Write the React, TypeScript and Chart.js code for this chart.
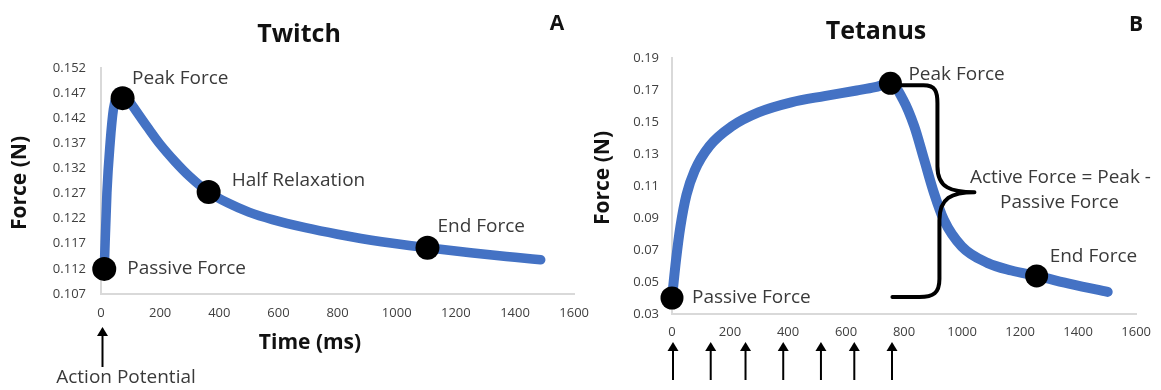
import React, { useEffect, useRef } from "react";
import { Chart, registerables } from "chart.js";
Chart.register(...registerables);

const FONT = "'Open Sans', 'DejaVu Sans', sans-serif";
const BLUE = "#4472C4";
const TEXT = "#3a3a3a";
const TICK = "#404040";

// ---------- Twitch (A) ----------
const twitchTime = [11, 20, 31, 42, 55, 65, 80, 100, 130, 160, 200, 250, 300, 364, 430, 500, 580, 691, 800, 949, 1104, 1250, 1400, 1487];
const twitchForce = [0.112, 0.1272, 0.1372, 0.1438, 0.1466, 0.1472, 0.1465, 0.145, 0.1425, 0.14, 0.1368, 0.1334, 0.1304, 0.1273, 0.1251, 0.1233, 0.1218, 0.1202, 0.1189, 0.1174, 0.1162, 0.1152, 0.1143, 0.1138];
const twitchKeyTime = [11, 73, 364, 1104];
const twitchKeyForce = [0.112, 0.146, 0.1273, 0.1162];
const twitchKeyLabels = ["Passive Force", "Peak Force", "Half Relaxation", "End Force"];
const twitchYTicks = [0.107, 0.112, 0.117, 0.122, 0.127, 0.132, 0.137, 0.142, 0.147, 0.152];
const twitchStimuli = [0];

// ---------- Tetanus (B) ----------
const tetanusTime = [0, 14, 29, 50, 78, 129, 207, 298, 411, 525, 637, 700, 753, 796, 835, 869, 903, 937, 999, 1089, 1170, 1257, 1380, 1502];
const tetanusForce = [0.04, 0.064, 0.0847, 0.1045, 0.1195, 0.1349, 0.1474, 0.156, 0.1623, 0.1662, 0.1697, 0.1718, 0.1742, 0.1642, 0.1474, 0.1266, 0.1057, 0.0889, 0.0722, 0.0618, 0.0572, 0.0538, 0.0485, 0.0438];
const tetanusKeyTime = [0, 753, 1257];
const tetanusKeyForce = [0.04, 0.1742, 0.0538];
const tetanusKeyLabels = ["Passive Force", "Peak Force", "End Force"];
const tetanusYTicks = [0.03, 0.05, 0.07, 0.09, 0.11, 0.13, 0.15, 0.17, 0.19];
const tetanusStimuli = [0, 130, 250, 380, 510, 625, 755];

const timeTicks = [0, 200, 400, 600, 800, 1000, 1200, 1400, 1600];

function drawArrow(ctx: CanvasRenderingContext2D, x: number, yTip: number, yBottom: number) {
  ctx.save();
  ctx.strokeStyle = "#000";
  ctx.fillStyle = "#000";
  ctx.lineWidth = 2;
  ctx.beginPath();
  ctx.moveTo(x, yTip + 6);
  ctx.lineTo(x, yBottom);
  ctx.stroke();
  ctx.beginPath();
  ctx.moveTo(x, yTip);
  ctx.lineTo(x - 5.5, yTip + 9);
  ctx.lineTo(x + 5.5, yTip + 9);
  ctx.closePath();
  ctx.fill();
  ctx.restore();
}

function text(ctx: CanvasRenderingContext2D, s: string, x: number, y: number, font: string, color: string, align: CanvasTextAlign = "left") {
  ctx.font = font;
  ctx.fillStyle = color;
  ctx.textAlign = align;
  ctx.textBaseline = "middle";
  ctx.fillText(s, x, y);
}

function vtext(ctx: CanvasRenderingContext2D, s: string, x: number, y: number, font: string, color: string) {
  ctx.save();
  ctx.translate(x, y);
  ctx.rotate(-Math.PI / 2);
  text(ctx, s, 0, 0, font, color, "center");
  ctx.restore();
}

type Spec = {
  width: number;
  height: number;
  left: number;
  time: number[];
  force: number[];
  keyTime: number[];
  keyForce: number[];
  yTicks: number[];
  decimals: number;
  top: number;
  right: number;
  yWidth: number;
  xHeight: number;
  yPad: number;
  xPad: number;
  lineWidth: number;
  dotRadius: number;
  extras: (chart: any) => void;
};

const twitchSpec: Spec = {
  width: 600,
  height: 390,
  left: 0,
  time: twitchTime,
  force: twitchForce,
  keyTime: twitchKeyTime,
  keyForce: twitchKeyForce,
  yTicks: twitchYTicks,
  decimals: 3,
  top: 68,
  right: 23,
  yWidth: 101,
  xHeight: 96,
  yPad: 15,
  xPad: 11,
  lineWidth: 9.5,
  dotRadius: 12,
  extras: (chart: any) => {
    const ctx: CanvasRenderingContext2D = chart.ctx;
    const xs = chart.scales.x;
    const ys = chart.scales.y;
    ctx.save();
    text(ctx, "Twitch", 299, 35, `bold 25px ${FONT}`, "#111", "center");
    text(ctx, "A", 557, 24, `bold 21px ${FONT}`, "#111", "center");
    vtext(ctx, "Force (N)", 20, 183, `bold 21px ${FONT}`, "#111");
    text(ctx, "Time (ms)", 310, 343, `bold 21px ${FONT}`, "#111", "center");
    const offsets = [[23, 0], [9.5, -20], [23, -11], [10, -21]];
    twitchKeyLabels.forEach((lab, i) => {
      const px = xs.getPixelForValue(twitchKeyTime[i]);
      const py = ys.getPixelForValue(twitchKeyForce[i]);
      text(ctx, lab, px + offsets[i][0], py + offsets[i][1], `19px ${FONT}`, TEXT);
    });
    twitchStimuli.forEach((t) => {
      const x = xs.getPixelForValue(t) + 1.5;
      drawArrow(ctx, x, chart.chartArea.bottom + 33, chart.chartArea.bottom + 73);
    });
    text(ctx, "Action Potential", 126, 378, `19px ${FONT}`, TEXT, "center");
    ctx.restore();
  },
};

const tetanusSpec: Spec = {
  width: 581,
  height: 390,
  left: 580,
  time: tetanusTime,
  force: tetanusForce,
  keyTime: tetanusKeyTime,
  keyForce: tetanusKeyForce,
  yTicks: tetanusYTicks,
  decimals: 2,
  top: 58,
  right: 17,
  yWidth: 92,
  xHeight: 76,
  yPad: 13,
  xPad: 10,
  lineWidth: 10,
  dotRadius: 11.5,
  extras: (chart: any) => {
    const ctx: CanvasRenderingContext2D = chart.ctx;
    const xs = chart.scales.x;
    const ys = chart.scales.y;
    ctx.save();
    text(ctx, "Tetanus", 296, 32, `bold 25px ${FONT}`, "#111", "center");
    text(ctx, "B", 556, 25, `bold 21px ${FONT}`, "#111", "center");
    vtext(ctx, "Force (N)", 23, 178, `bold 21px ${FONT}`, "#111");
    const offsets = [[20, 0], [18, -9], [13, -19]];
    tetanusKeyLabels.forEach((lab, i) => {
      const px = xs.getPixelForValue(tetanusKeyTime[i]);
      const py = ys.getPixelForValue(tetanusKeyForce[i]);
      text(ctx, lab, px + offsets[i][0], py + offsets[i][1], `19px ${FONT}`, TEXT);
    });
    // curly brace: Active force = Peak - Passive
    const xPeak = xs.getPixelForValue(tetanusKeyTime[1]);
    const yTop = ys.getPixelForValue(tetanusKeyForce[1]) + 2;
    const yBot = ys.getPixelForValue(tetanusKeyForce[0]) - 1;
    const xL = xPeak + 6;
    const xV = xL + 43;
    const xTip = xL + 78;
    const yMid = (yTop + yBot) / 2 + 1;
    ctx.save();
    ctx.strokeStyle = "#000";
    ctx.lineWidth = 4;
    ctx.lineCap = "round";
    ctx.lineJoin = "round";
    ctx.beginPath();
    ctx.moveTo(xL, yTop);
    ctx.lineTo(xV - 16, yTop);
    ctx.bezierCurveTo(xV - 4, yTop, xV - 2, yTop + 6, xV - 2, yTop + 18);
    ctx.lineTo(xV - 2, yMid - 26);
    ctx.bezierCurveTo(xV - 2, yMid - 4, xV + 12, yMid, xTip, yMid);
    ctx.bezierCurveTo(xV + 12, yMid, xV, yMid + 6, xV, yMid + 28);
    ctx.lineTo(xV, yBot - 18);
    ctx.bezierCurveTo(xV, yBot - 4, xV - 6, yBot, xV - 20, yBot);
    ctx.lineTo(xL - 4, yBot);
    ctx.stroke();
    ctx.restore();
    text(ctx, "Active Force = Peak -", xTip + 86, yMid - 15, `19px ${FONT}`, TEXT, "center");
    text(ctx, "Passive Force", xTip + 85, yMid + 10, `19px ${FONT}`, TEXT, "center");
    tetanusStimuli.forEach((t) => {
      const x = xs.getPixelForValue(t) + 1;
      drawArrow(ctx, x, chart.chartArea.bottom + 28, chart.chartArea.bottom + 66);
    });
    ctx.restore();
  },
};

function ForceChart({ spec }: { spec: Spec }) {
  const ref = useRef<HTMLCanvasElement | null>(null);
  useEffect(() => {
    if (!ref.current) return;
    const curve = spec.time.map((t, i) => ({ x: t, y: spec.force[i] }));
    const keys = spec.keyTime.map((t, i) => ({ x: t, y: spec.keyForce[i] }));
    const tickFont = { family: FONT, size: 13 };
    const chart = new Chart(ref.current, {
      type: "scatter",
      data: {
        datasets: [
          {
            data: keys,
            showLine: false,
            pointRadius: spec.dotRadius,
            pointBackgroundColor: "#000",
            pointBorderColor: "#000",
            pointBorderWidth: 0,
            clip: false,
          } as any,
          {
            data: curve,
            showLine: true,
            borderColor: BLUE,
            borderWidth: spec.lineWidth,
            pointRadius: 0,
            cubicInterpolationMode: "monotone",
            borderCapStyle: "round",
            borderJoinStyle: "round",
            fill: false,
            clip: false,
          } as any,
        ],
      },
      options: {
        responsive: false,
        animation: false,
        events: [],
        layout: { padding: { left: 0, top: spec.top, right: spec.right, bottom: 0 } },
        plugins: { legend: { display: false }, tooltip: { enabled: false }, title: { display: false } },
        scales: {
          x: {
            type: "linear",
            min: 0,
            max: 1600,
            afterBuildTicks: (s: any) => {
              s.ticks = timeTicks.map((v) => ({ value: v }));
            },
            afterFit: (s: any) => {
              s.height = spec.xHeight;
            },
            grid: { display: false, drawTicks: false },
            border: { display: true, color: "#d9d9d9", width: 2 },
            ticks: { padding: spec.xPad, font: tickFont, color: TICK, maxRotation: 0, autoSkip: false, callback: (v: any) => String(v) },
          },
          y: {
            type: "linear",
            min: spec.yTicks[0],
            max: spec.yTicks[spec.yTicks.length - 1],
            afterBuildTicks: (s: any) => {
              s.ticks = spec.yTicks.map((v) => ({ value: v }));
            },
            afterFit: (s: any) => {
              s.width = spec.yWidth;
            },
            grid: { display: false, drawTicks: false },
            border: { display: true, color: "#d9d9d9", width: 2 },
            ticks: { padding: spec.yPad, font: tickFont, color: TICK, autoSkip: false, callback: (v: any) => Number(v).toFixed(spec.decimals) },
          },
        },
      } as any,
      plugins: [
        {
          id: "extras",
          afterDatasetsDraw: (chart: any) => spec.extras(chart),
        },
      ],
    });
    return () => chart.destroy();
  }, [spec]);
  return (
    <canvas
      ref={ref}
      width={spec.width}
      height={spec.height}
      style={{ position: "absolute", left: spec.left, top: 0, width: spec.width, height: spec.height }}
    />
  );
}

export default function App() {
  return (
    <div style={{ position: "absolute", left: 0, top: 0, width: 1161, height: 390, background: "#fff", overflow: "hidden" }}>
      <ForceChart spec={twitchSpec} />
      <ForceChart spec={tetanusSpec} />
    </div>
  );
}
